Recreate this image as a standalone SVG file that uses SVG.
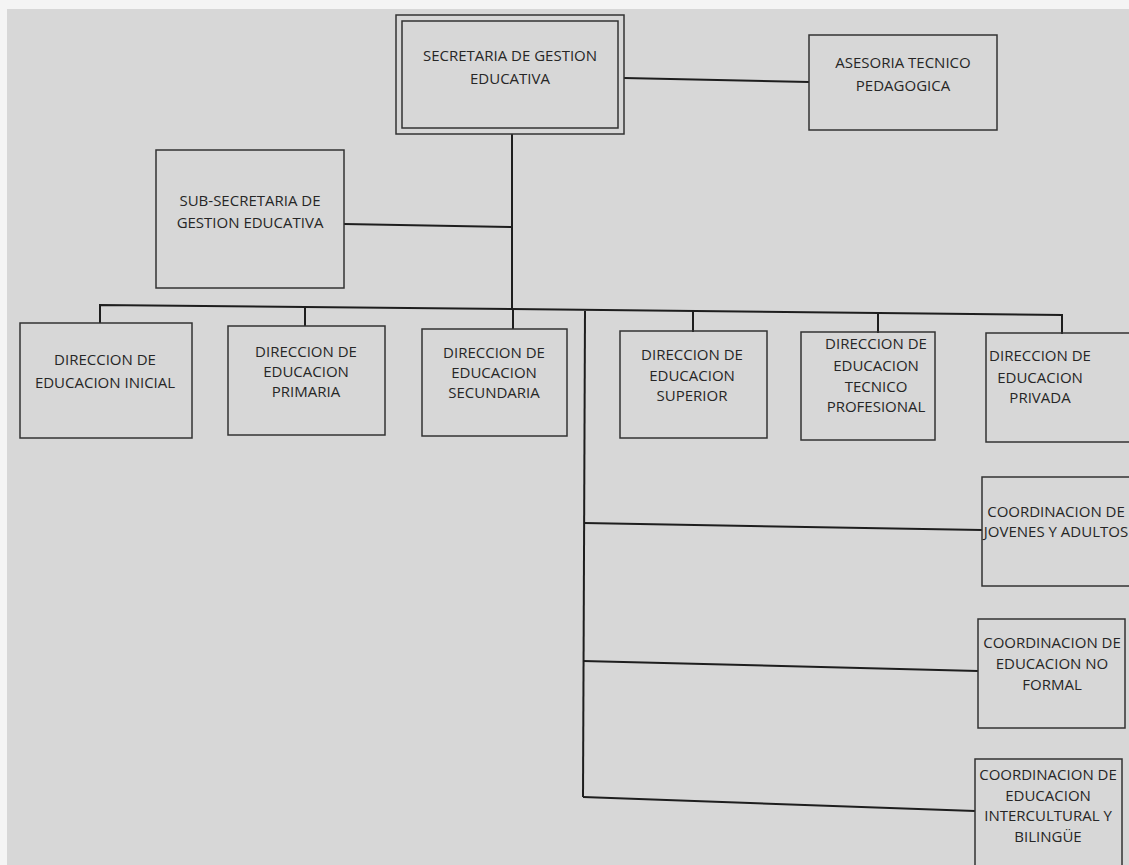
<svg xmlns="http://www.w3.org/2000/svg" width="1129" height="865" viewBox="0 0 1129 865">
<style>
.bg{fill:#d7d7d7}
.box{fill:none;stroke:#333;stroke-width:1.5}
.conn{fill:none;stroke:#1e1e1e;stroke-width:2}
text{font-family:"Open Sans","Noto Sans","Liberation Sans",sans-serif;font-size:15px;fill:#262626;text-anchor:middle}
</style>
<rect class="bg" x="0" y="0" width="1129" height="865"/>
<rect x="0" y="0" width="1129" height="9" fill="#f4f4f4"/>
<rect x="0" y="0" width="7" height="865" fill="#f4f4f4"/>
<g id="connectors">
<polyline class="conn" points="624,78 809,82"/>
<polyline class="conn" points="512,134 512,309"/>
<polyline class="conn" points="344,224 512,227"/>
<polyline class="conn" points="100,323 100,305 512,309 1062,315 1062,334"/>
<polyline class="conn" points="305,307 305,326"/>
<polyline class="conn" points="513,309 513,329"/>
<polyline class="conn" points="693,311 693,332"/>
<polyline class="conn" points="878,313 878,333"/>
<polyline class="conn" points="585,311 583,797"/>
<polyline class="conn" points="584,523 982,530"/>
<polyline class="conn" points="583,661 978,671"/>
<polyline class="conn" points="583,797 975,811"/>
</g>
<g id="n-secretaria">
<rect class="box" x="396" y="15" width="228" height="119"/>
<rect class="box" x="402" y="21" width="216" height="107"/>
<text x="510" y="61">SECRETARIA DE GESTION</text>
<text x="510" y="84">EDUCATIVA</text>
</g>
<g id="n-asesoria">
<rect class="box" x="809" y="35" width="188" height="95"/>
<text x="903" y="68">ASESORIA TECNICO</text>
<text x="903" y="91">PEDAGOGICA</text>
</g>
<g id="n-subsecretaria">
<rect class="box" x="156" y="150" width="188" height="138"/>
<text x="250" y="206">SUB-SECRETARIA DE</text>
<text x="250" y="228">GESTION EDUCATIVA</text>
</g>
<g id="n-inicial">
<rect class="box" x="20" y="323" width="172" height="115"/>
<text x="105" y="365">DIRECCION DE</text>
<text x="105" y="388">EDUCACION INICIAL</text>
</g>
<g id="n-primaria">
<rect class="box" x="228" y="326" width="157" height="109"/>
<text x="306" y="357">DIRECCION DE</text>
<text x="306" y="377">EDUCACION</text>
<text x="306" y="397">PRIMARIA</text>
</g>
<g id="n-secundaria">
<rect class="box" x="422" y="329" width="145" height="107"/>
<text x="494" y="358">DIRECCION DE</text>
<text x="494" y="378">EDUCACION</text>
<text x="494" y="398">SECUNDARIA</text>
</g>
<g id="n-superior">
<rect class="box" x="620" y="331" width="147" height="107"/>
<text x="692" y="360">DIRECCION DE</text>
<text x="692" y="381">EDUCACION</text>
<text x="692" y="401">SUPERIOR</text>
</g>
<g id="n-tecnico">
<rect class="box" x="801" y="332" width="134" height="108"/>
<text x="876" y="349">DIRECCION DE</text>
<text x="876" y="371">EDUCACION</text>
<text x="876" y="392">TECNICO</text>
<text x="876" y="412">PROFESIONAL</text>
</g>
<g id="n-privada">
<rect class="box" x="986" y="333" width="150" height="109"/>
<text x="1040" y="361">DIRECCION DE</text>
<text x="1040" y="383">EDUCACION</text>
<text x="1040" y="403">PRIVADA</text>
</g>
<g id="n-jovenes">
<rect class="box" x="982" y="477" width="150" height="109"/>
<text x="1056" y="517">COORDINACION DE</text>
<text x="1056" y="537">JOVENES Y ADULTOS</text>
</g>
<g id="n-noformal">
<rect class="box" x="978" y="619" width="147" height="109"/>
<text x="1052" y="648">COORDINACION DE</text>
<text x="1052" y="669">EDUCACION NO</text>
<text x="1052" y="690">FORMAL</text>
</g>
<g id="n-intercultural">
<rect class="box" x="975" y="759" width="147" height="110"/>
<text x="1048" y="780">COORDINACION DE</text>
<text x="1048" y="801">EDUCACION</text>
<text x="1048" y="821">INTERCULTURAL Y</text>
<text x="1048" y="842">BILINGÜE</text>
</g>
</svg>
